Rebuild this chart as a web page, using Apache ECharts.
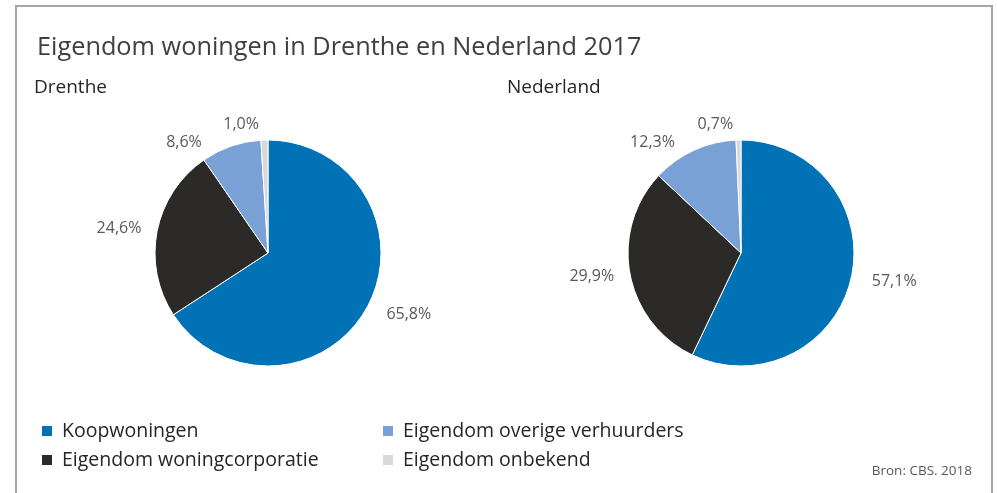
<!DOCTYPE html>
<head>
    <meta charset="utf-8">
    <title>Eigendom woningen</title>
    <style>
        body { margin: 0; }
        #main { width: 997px; height: 493px; }
    </style>
</head>
<body>
    <div id="main"></div>
    <script src="https://cdn.jsdelivr.net/npm/echarts@6/dist/echarts.min.js"></script>
    <script type="text/javascript">
        // categorieën en waarden (%)
        var categories = ['Koopwoningen', 'Eigendom woningcorporatie', 'Eigendom overige verhuurders', 'Eigendom onbekend'];
        var drenthe = [65.8, 24.6, 8.6, 1.0];
        var nederland = [57.1, 29.9, 12.3, 0.7];
        var colors = ['#0172b6', '#2b2a29', '#7aa1d5', '#d9d9d9'];

        var font = '"Open Sans", sans-serif';
        var myChart = echarts.init(document.getElementById('main'));

        function toData(values) {
            return categories.map(function (c, i) {
                return { name: c, value: values[i] };
            });
        }

        function pieSeries(name, values, cx) {
            return {
                name: name,
                type: 'pie',
                center: [cx, 253],
                radius: [0, 113],
                startAngle: 90,
                clockwise: true,
                animation: false,
                itemStyle: { borderColor: '#fff', borderWidth: 1 },
                label: {
                    show: true,
                    position: 'outside',
                    fontFamily: font,
                    fontSize: 16,
                    color: '#595959',
                    formatter: function (p) {
                        return p.value.toFixed(1).replace('.', ',') + '%';
                    }
                },
                labelLine: { show: false, length: 16, length2: 0 },
                emphasis: { disabled: true },
                data: toData(values)
            };
        }

        var legendText = { fontFamily: font, fontSize: 19.5, color: '#262626', padding: [0, 0, 0, 4] };

        var option = {
            color: colors,
            title: [
                { text: 'Eigendom woningen in Drenthe en Nederland 2017', left: 32, top: 30,
                  textStyle: { fontFamily: font, fontSize: 25.3, fontWeight: 'normal', color: '#404040' } },
                { text: 'Drenthe', left: 29, top: 73,
                  textStyle: { fontFamily: font, fontSize: 19, fontWeight: 'normal', color: '#262626' } },
                { text: 'Nederland', left: 502, top: 73,
                  textStyle: { fontFamily: font, fontSize: 19, fontWeight: 'normal', color: '#262626' } },
                { text: 'Bron: CBS. 2018', right: 20, top: 459,
                  textStyle: { fontFamily: font, fontSize: 13.5, fontWeight: 'normal', color: '#595959' } }
            ],
            legend: [
                { data: [categories[0], categories[1]], orient: 'vertical', left: 35, top: 416,
                  itemWidth: 12, itemHeight: 12, itemGap: 9, icon: 'rect', selectedMode: false,
                  textStyle: legendText },
                { data: [categories[2], categories[3]], orient: 'vertical', left: 376, top: 416,
                  itemWidth: 12, itemHeight: 12, itemGap: 9, icon: 'rect', selectedMode: false,
                  textStyle: legendText }
            ],
            graphic: [
                { type: 'rect', shape: { x: 16, y: 6, width: 976, height: 520 },
                  style: { fill: 'none', stroke: '#a6a6a6', lineWidth: 2 }, silent: true }
            ],
            series: [
                pieSeries('Drenthe', drenthe, 268),
                pieSeries('Nederland', nederland, 741)
            ]
        };

        myChart.setOption(option);
    </script>
</body>
